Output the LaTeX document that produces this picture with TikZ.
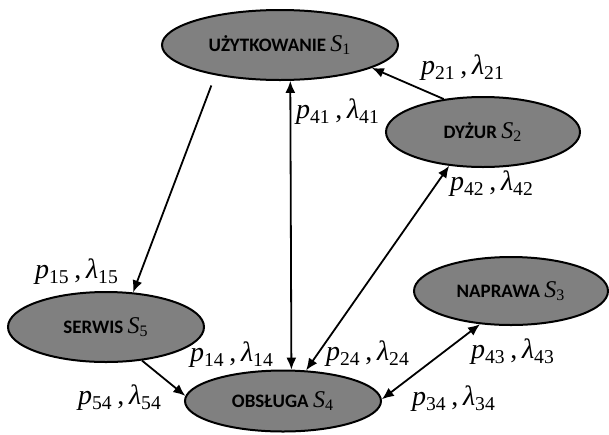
\documentclass[tikz,border=0pt]{standalone}
\usepackage{fontspec}
\newfontfamily\stanfont{Carlito}
\newfontfamily\etykfont{Liberation Serif}
\usepackage{tikz}
\usetikzlibrary{shapes,arrows.meta}
\definecolor{stangray}{RGB}{128,128,128}
\newcommand{\stanS}[1]{{\etykfont\mdseries\fontsize{12}{14}\selectfont\textit{S}\textsubscript{#1}}}
\newcommand{\pl}[1]{\textit{p}\textsubscript{#1}\,,\,\textit{λ}\textsubscript{#1}}

\begin{document}
\begin{tikzpicture}[x=0.5pt, y=-0.5pt,
    stan/.style={ellipse, draw, line width=1pt, fill=stangray, inner sep=0pt,
                 font=\stanfont\bfseries\fontsize{9.5}{11}\selectfont},
    etyk/.style={inner sep=0pt, font=\etykfont\fontsize{14}{16}\selectfont},
    strz/.style={-{Latex[length=6pt,width=5pt]}, line width=0.9pt},
    dwa/.style={{Latex[length=6pt,width=5pt]}-{Latex[length=6pt,width=5pt]}, line width=0.9pt}]
      \useasboundingbox (0, 0) rectangle (609, 434);
      \node (uzyt) [stan, minimum width=118pt, minimum height=35pt] at (280, 45) {UŻYTKOWANIE \stanS{1}};
      \node (dyzur) [stan, minimum width=97pt, minimum height=35pt] at (483, 132) {DYŻUR \stanS{2}};
      \node (naprawa) [stan, minimum width=97pt, minimum height=34pt] at (511, 291) {NAPRAWA \stanS{3}};
      \node (obsluga) [stan, minimum width=98pt, minimum height=30.5pt] at (283, 401) {OBSŁUGA \stanS{4}};
      \node (serwis) [stan, minimum width=98pt, minimum height=35pt] at (106, 327) {SERWIS \stanS{5}};
      \node (l21) [etyk] at (463, 68) {\pl{21}};
      \node (l41) [etyk] at (338, 112) {\pl{41}};
      \node (l42) [etyk] at (492, 184) {\pl{42}};
      \node (l15) [etyk] at (77, 272) {\pl{15}};
      \node (l14) [etyk] at (232, 355) {\pl{14}};
      \node (l24) [etyk] at (368, 354) {\pl{24}};
      \node (l43) [etyk] at (513, 352) {\pl{43}};
      \node (l54) [etyk] at (120, 398) {\pl{54}};
      \node (l34) [etyk] at (454, 399) {\pl{34}};
      \draw[strz] (dyzur.140) -- (uzyt.-14);
      \draw[strz, shorten <=5.5pt] (uzyt.-155) -- (serwis.52);
      \draw[strz] (serwis.-43) -- (obsluga.177);
      \draw[dwa] (uzyt.-74) -- (obsluga.75);
      \draw[dwa] (dyzur.-135) -- (obsluga.53);
      \draw[dwa] (naprawa.-133) -- (obsluga.1);
\end{tikzpicture}
\end{document}
